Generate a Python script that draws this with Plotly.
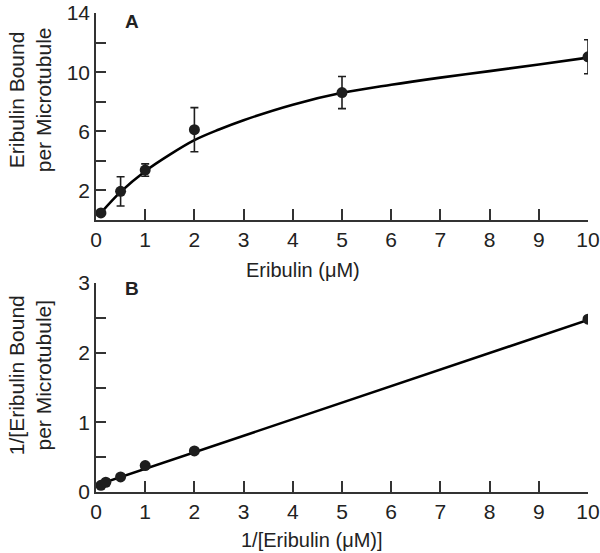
import plotly.graph_objects as go

# Panel A: binding data (mean +/- error)
conc = [0.1, 0.5, 1, 2, 5, 10]
bound = [0.48, 1.94, 3.38, 6.11, 8.62, 11.04]
bound_err = [0, 0.99, 0.42, 1.49, 1.09, 1.15]

# Panel A: fitted curve
fit_x = [0.1, 0.5, 1, 1.5, 2, 2.5, 3, 4, 5, 6, 7, 8, 9, 10]
fit_y = [0.48, 1.9, 3.3, 4.42, 5.4, 6.12, 6.75, 7.8, 8.6, 9.15, 9.63, 10.07, 10.52, 10.98]

# Panel B: double-reciprocal plot
inv_conc = [0.1, 0.2, 0.5, 1, 2, 10]
inv_bound = [0.096, 0.14, 0.216, 0.38, 0.59, 2.48]
line_x = [0, 10]
line_y = [0.095, 2.47]

FONT = "Liberation Sans, Arial, sans-serif"
INK = "#1e1e1e"

fig = go.Figure()

fig.add_trace(go.Scatter(
    x=fit_x, y=fit_y, mode="lines", line=dict(color="black", width=2.6, shape="spline"),
    xaxis="x", yaxis="y", showlegend=False,
))
fig.add_trace(go.Scatter(
    x=conc, y=bound, mode="markers",
    marker=dict(color=INK, size=11),
    error_y=dict(type="data", array=bound_err, color=INK, thickness=1.6, width=4),
    xaxis="x", yaxis="y", showlegend=False,
))

fig.add_trace(go.Scatter(
    x=line_x, y=line_y, mode="lines", line=dict(color="black", width=2.6),
    xaxis="x2", yaxis="y2", showlegend=False,
))
fig.add_trace(go.Scatter(
    x=inv_conc, y=inv_bound, mode="markers",
    marker=dict(color=INK, size=11),
    xaxis="x2", yaxis="y2", showlegend=False,
))

axis_common = dict(
    showline=True, linecolor="#333333", linewidth=1.6, mirror=False,
    automargin=False, ticklabeloverflow="allow",
    showgrid=False, zeroline=False, ticks="inside", tickcolor="#333333",
    tickwidth=1.6, tickfont=dict(family=FONT, size=21, color="#222222"),
)
x_ticks = dict(tickvals=list(range(0, 11)), ticklen=11)

fig.update_layout(
    width=600, height=553,
    margin=dict(l=96, r=12, t=13, b=61),
    paper_bgcolor="white", plot_bgcolor="white",
    font=dict(family=FONT, color="#222222"),
    xaxis=dict(domain=[0, 1], range=[0, 10], anchor="y", **x_ticks, **axis_common),
    yaxis=dict(domain=[0.5678, 1], range=[0, 14], anchor="x",
               tickvals=[2, 4, 6, 8, 10, 12, 14],
               ticktext=["2", "", "6", "", "10", "", "14"], ticklen=10, **axis_common),
    xaxis2=dict(domain=[0, 1], range=[0, 10], anchor="y2", **x_ticks, **axis_common),
    yaxis2=dict(domain=[0, 0.4363], range=[0, 3], anchor="x2",
                tickvals=[0, 0.5, 1, 1.5, 2, 2.5, 3],
                ticktext=["0", "", "1", "", "2", "", "3"], ticklen=10, **axis_common),
    annotations=[
        dict(text="<b>A</b>", x=0.074, y=0.983, xref="paper", yref="paper",
             xanchor="center", yanchor="middle", showarrow=False, font=dict(size=19, color="#222222")),
        dict(text="<b>B</b>", x=0.074, y=0.4238, xref="paper", yref="paper",
             xanchor="center", yanchor="middle", showarrow=False, font=dict(size=19, color="#222222")),
        dict(text="Eribulin (μM)", x=0.42, y=0.4635, xref="paper", yref="paper",
             xanchor="center", yanchor="middle", showarrow=False, font=dict(size=20)),
        dict(text="1/[Eribulin (μM)]", x=0.44, y=-0.1002, xref="paper", yref="paper",
             xanchor="center", yanchor="middle", showarrow=False, font=dict(size=20)),
        dict(text="Eribulin Bound<br>per Microtubule", x=-0.134, y=0.818, xref="paper", yref="paper",
             xanchor="center", yanchor="middle", textangle=-90, showarrow=False, font=dict(size=21)),
        dict(text="1/[Eribulin Bound<br>per Microtubule]", x=-0.134, y=0.244, xref="paper", yref="paper",
             xanchor="center", yanchor="middle", textangle=-90, showarrow=False, font=dict(size=21)),
    ],
)

# drop the default 8px page margin so the figure sits at the window's corner
fig.write_html("out.html", config={"displayModeBar": False},
               post_script="document.body.style.margin = '0';")
